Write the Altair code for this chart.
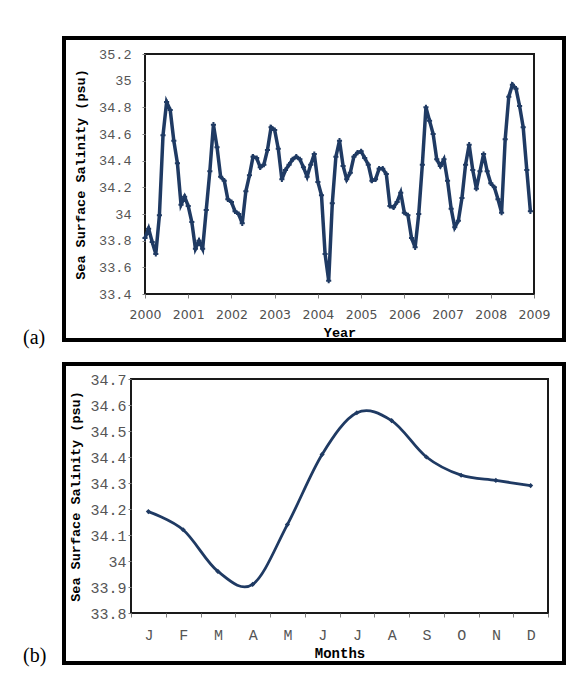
import altair as alt
import pandas as pd

# ---------------- data ----------------
start_year = 2000
year_ticks = [2000, 2001, 2002, 2003, 2004, 2005, 2006, 2007, 2008, 2009]
sss_monthly = [
    33.82, 33.89, 33.79, 33.70, 33.99, 34.59, 34.84, 34.78, 34.55, 34.38, 34.07, 34.13,
    34.06, 33.94, 33.74, 33.80, 33.74, 34.03, 34.32, 34.67, 34.50, 34.28, 34.25, 34.11,
    34.09, 34.02, 34.00, 33.93, 34.17, 34.29, 34.43, 34.42, 34.35, 34.37, 34.48, 34.65,
    34.63, 34.49, 34.26, 34.33, 34.37, 34.41, 34.43, 34.41, 34.35, 34.28, 34.37, 34.45,
    34.24, 34.14, 33.70, 33.50, 34.08, 34.43, 34.55, 34.36, 34.26, 34.31, 34.43, 34.46,
    34.47, 34.42, 34.37, 34.25, 34.26, 34.34, 34.34, 34.30, 34.06, 34.05, 34.09, 34.16,
    34.01, 33.99, 33.82, 33.75, 34.00, 34.37, 34.80, 34.70, 34.60, 34.41, 34.36, 34.41,
    34.25, 34.04, 33.90, 33.95, 34.12, 34.37, 34.52, 34.33, 34.19, 34.32, 34.45, 34.32,
    34.23, 34.20, 34.11, 34.01, 34.56, 34.88, 34.97, 34.94, 34.81, 34.65, 34.33, 34.02,
]
sss_ticks_a = [33.4, 33.6, 33.8, 34.0, 34.2, 34.4, 34.6, 34.8, 35.0, 35.2]

month_names = ["Jan", "Feb", "Mar", "Apr", "May", "Jun",
               "Jul", "Aug", "Sep", "Oct", "Nov", "Dec"]
sss_clim = [34.19, 34.12, 33.96, 33.91, 34.14, 34.41,
            34.57, 34.54, 34.40, 34.33, 34.31, 34.29]
sss_ticks_b = [33.8, 33.9, 34.0, 34.1, 34.2, 34.3, 34.4, 34.5, 34.6, 34.7]

top_df = pd.DataFrame({
    "t": [start_year + i / 12 for i in range(len(sss_monthly))],
    "sss": sss_monthly,
})
bot_df = pd.DataFrame({"month": month_names, "sss": sss_clim})
one = pd.DataFrame({"k": [0]})

NAVY = "#1f3a63"
MONO = "Liberation Mono"
LBL = "#555555"

W1, H1 = 389, 240
W2, H2 = 417, 234

# ---------------- chart (a) ----------------
xa = alt.X("t:Q",
           scale=alt.Scale(domain=[2000, 2009], nice=False, zero=False),
           axis=alt.Axis(values=year_ticks, format="d", title="Year",
                         labelOverlap=False, labelFlush=False,
                         labelFont="DejaVu Sans", labelColor="#505050",
                         tickSize=4, labelPadding=10, labelFontSize=12.5,
                         titleFontSize=13.5, titlePadding=5))
ya = alt.Y("sss:Q",
           scale=alt.Scale(domain=[33.4, 35.2], nice=False, zero=False),
           axis=alt.Axis(values=sss_ticks_a, format="~g",
                         title="Sea Surface Salinity (psu)",
                         labelOverlap=False, labelFlush=False,
                         tickSize=3, labelPadding=11, labelFontSize=13.5,
                         titleFontSize=13.5, titleX=-65, titleY=H1 / 2,
                         titleBaseline="middle", titleAlign="center", titleAngle=270))

frame_a = alt.Chart(one).mark_rect(fill="white", fillOpacity=0, stroke="black",
                                   strokeWidth=4).encode(
    x=alt.value(-81), x2=alt.value(W1 + 30), y=alt.value(-16), y2=alt.value(H1 + 46))
label_a = alt.Chart(one).mark_text(text="(a)", align="left", baseline="alphabetic",
                                   font="Liberation Serif", fontSize=20,
                                   color="black").encode(
    x=alt.value(-122), y=alt.value(H1 + 50))
line_a = alt.Chart(top_df).mark_line(color=NAVY, strokeWidth=3.5).encode(x=xa, y=ya)
pts_a = alt.Chart(top_df).mark_point(shape="cross", filled=True, size=26,
                                     color=NAVY, opacity=1).encode(x=xa, y=ya)

chart_a = alt.layer(frame_a, line_a, pts_a, label_a).properties(width=W1, height=H1)

# ---------------- chart (b) ----------------
xb = alt.X("month:O", sort=month_names, bandPosition=0.5,
           scale=alt.Scale(type="band", paddingInner=0, paddingOuter=0),
           axis=alt.Axis(labelExpr="substring(datum.label, 0, 1)", labelAngle=0,
                         tickBand="extent", tickSize=4, labelPadding=10,
                         labelFontSize=15, title="Months", titleFontSize=14,
                         titlePadding=4))
yb = alt.Y("sss:Q",
           scale=alt.Scale(domain=[33.8, 34.7], nice=False, zero=False),
           axis=alt.Axis(values=sss_ticks_b, format="~g",
                         title="Sea Surface Salinity (psu)",
                         labelOverlap=False, labelFlush=False,
                         tickSize=3, labelPadding=2, labelFontSize=15,
                         titleFontSize=13.5, titleX=-56, titleY=H2 / 2,
                         titleBaseline="middle", titleAlign="center", titleAngle=270))

frame_b = alt.Chart(one).mark_rect(fill="white", fillOpacity=0, stroke="black",
                                   strokeWidth=4).encode(
    x=alt.value(-67), x2=alt.value(W2 + 16), y=alt.value(-15), y2=alt.value(H2 + 50))
label_b = alt.Chart(one).mark_text(text="(b)", align="left", baseline="alphabetic",
                                   font="Liberation Serif", fontSize=20,
                                   color="black").encode(
    x=alt.value(-108), y=alt.value(H2 + 49))
line_b = alt.Chart(bot_df).mark_line(color=NAVY, strokeWidth=2.8,
                                     interpolate="cardinal", tension=0).encode(x=xb, y=yb)
pts_b = alt.Chart(bot_df).mark_point(shape="diamond", filled=True, size=26,
                                     color=NAVY, opacity=1).encode(x=xb, y=yb)

chart_b = alt.layer(frame_b, line_b, pts_b, label_b).properties(width=W2, height=H2)

chart = alt.vconcat(chart_a, chart_b, spacing=85, bounds="flush", center=True).properties(
    padding={"left": 14, "top": 27, "right": 5, "bottom": 5}
).configure_view(
    stroke="#1a1a1a", strokeWidth=2
).configure_axis(
    grid=False, domain=False, tickColor="#808080", tickWidth=1,
    labelFont=MONO, labelColor=LBL, titleFont=MONO, titleFontWeight="bold",
    titleColor="black"
)

chart.save("out.html", embed_options={"renderer": "svg", "actions": False})
